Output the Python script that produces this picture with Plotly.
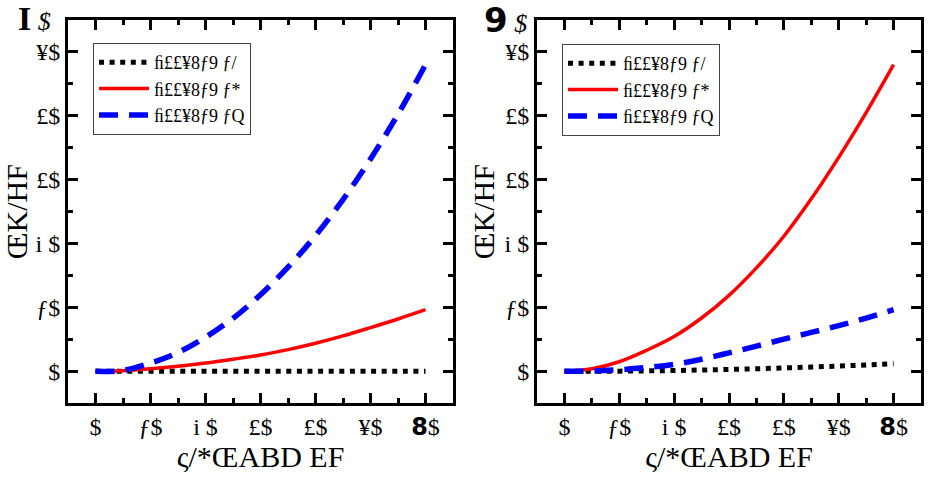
import plotly.graph_objects as go

# ---- data ----
x_vals = [0, 5, 10, 15, 20, 25, 30, 35, 40, 45, 50, 55, 60]

a_black = [0, 0, 0, 0, 0, 0, 0, 0, 0, 0, 0, 0, 0]
a_red = [0, 0.2, 0.8, 1.6, 2.6, 3.8, 5.1, 6.8, 8.8, 11.1, 13.7, 16.4, 19.3]
a_blue = [0, 0.3, 2.6, 5.9, 10.7, 16.6, 24.0, 32.6, 42.5, 53.8, 66.5, 80.5, 96.0]

b_black = [0, 0.02, 0.07, 0.15, 0.27, 0.42, 0.6, 0.82, 1.07, 1.35, 1.67, 2.0, 2.4]
b_red = [0, 0.8, 3.0, 6.6, 10.9, 16.7, 23.8, 32.4, 42.3, 54.0, 67.0, 81.0, 96.0]
b_blue = [0, 0.1, 0.5, 1.2, 2.2, 3.8, 5.8, 7.9, 10.1, 12.2, 14.3, 16.7, 19.3]

series_names = ["ﬁ££¥8ƒ9 ƒ/", "ﬁ££¥8ƒ9 ƒ*", "ﬁ££¥8ƒ9 ƒQ"]

x_tickvals = [0, 10, 20, 30, 40, 50, 60]
x_ticktext = ["$", "ƒ$", "i $", "£$", "£$", "¥$",
              "<span style='font-family:DejaVu Sans;font-weight:bold'>8</span>$"]
y_tickvals = [0, 20, 40, 60, 80, 100]
y_ticktext = ["$", "ƒ$", "i $", "£$", "£$", "¥$"]

x_title = "ς/*ŒABD EF"
y_title = "ŒK/HF"

SERIF = "'Liberation Serif', 'Times New Roman', Times, serif"
styles = [
    dict(color="black", width=5, dash="5px,5.6px"),
    dict(color="#ff0000", width=3.5, dash="solid"),
    dict(color="#0000ff", width=5.5, dash="19px,11px"),
]

fig = go.Figure()
panels = [("x", "y", "legend", [a_black, a_red, a_blue]),
          ("x2", "y2", "legend2", [b_black, b_red, b_blue])]
for xa, ya, lg, ys in panels:
    for name, yv, st in zip(series_names, ys, styles):
        fig.add_trace(go.Scatter(x=x_vals, y=yv, mode="lines", name=name,
                                 line=dict(shape="spline", smoothing=1.0, **st),
                                 xaxis=xa, yaxis=ya, legend=lg))

common_x = dict(range=[-5, 65], tickvals=x_tickvals, ticktext=x_ticktext,
                showline=True, linewidth=3, linecolor="black", mirror="ticks",
                ticks="inside", ticklen=10, tickwidth=3, tickcolor="black",
                minor=dict(dtick=5, tick0=0, ticks="inside", ticklen=5, tickwidth=3, tickcolor="black"),
                showgrid=False, zeroline=False,
                tickfont=dict(family=SERIF, size=24, color="black"),
                title=dict(text=x_title, font=dict(family=SERIF, size=30, color="black"), standoff=2))
common_y = dict(range=[-10, 110], tickvals=y_tickvals, ticktext=y_ticktext,
                showline=True, linewidth=3, linecolor="black", mirror="ticks",
                ticks="inside", ticklen=10, tickwidth=3, tickcolor="black",
                minor=dict(dtick=10, tick0=0, ticks="inside", ticklen=5, tickwidth=3, tickcolor="black"),
                showgrid=False, zeroline=False,
                tickfont=dict(family=SERIF, size=24, color="black"),
                title=dict(text=y_title, font=dict(family=SERIF, size=30, color="black"), standoff=2))

ydom = [1 - 403.3 / 484, 1 - 20 / 484]
legend_common = dict(xanchor="left", yanchor="top",
                     bordercolor="#444", borderwidth=1, bgcolor="white",
                     font=dict(family=SERIF, size=18, color="black"),
                     itemwidth=50, tracegroupgap=0)
fig.update_layout(
    width=928, height=484,
    margin=dict(l=0, r=0, t=0, b=0),
    font=dict(family=SERIF, color="black"),
    paper_bgcolor="white", plot_bgcolor="white",
    xaxis=dict(domain=[68 / 928, 453 / 928], anchor="y", **common_x),
    yaxis=dict(domain=ydom, anchor="x", **common_y),
    xaxis2=dict(domain=[537 / 928, 921 / 928], anchor="y2", **common_x),
    yaxis2=dict(domain=ydom, anchor="x2", **common_y),
    legend=dict(x=93 / 928, y=1 - 43 / 484, **legend_common),
    legend2=dict(x=562 / 928, y=1 - 44 / 484, **legend_common),
    showlegend=True,
)

labels = [(16, "<span style='font-weight:bold'>I</span>"),
          (482, "<span style='font-family:DejaVu Sans;font-weight:bold'>9</span>")]
for px, txt in labels:
    fig.add_annotation(x=px / 928, y=1 + 2 / 484, xref="paper", yref="paper",
                       xanchor="left", yanchor="top", showarrow=False,
                       text=txt + "<span style='font-size:26px;font-style:italic'> $</span>",
                       font=dict(family=SERIF, size=34, color="black"))

fig.write_html("out.html")
